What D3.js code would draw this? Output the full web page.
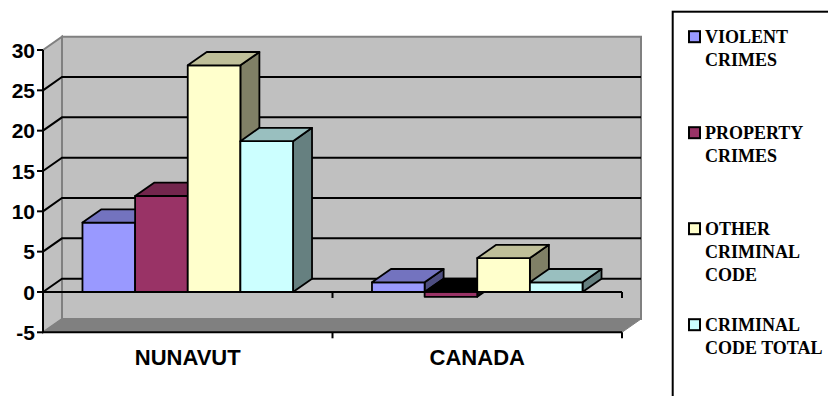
<!DOCTYPE html>
<html>
<head>
<meta charset="utf-8">
<script src="https://cdn.jsdelivr.net/npm/d3@7"></script>
<style>
body{ margin:0; background:#fff; }
</style>
</head>
<body>
<svg id="chart" width="828" height="396"></svg>
<script>
// data
let categories = ['NUNAVUT', 'CANADA'];
let seriesNames = ['VIOLENT CRIMES', 'PROPERTY CRIMES', 'OTHER CRIMINAL CODE', 'CRIMINAL CODE TOTAL'];
let legendLines = [['VIOLENT', 'CRIMES'], ['PROPERTY', 'CRIMES'], ['OTHER', 'CRIMINAL', 'CODE'], ['CRIMINAL', 'CODE TOTAL']];
let violent = [8.6, 1.2];
let property = [11.9, -0.6];
let otherCode = [28.1, 4.2];
let codeTotal = [18.7, 1.2];
let yTicks = [-5, 0, 5, 10, 15, 20, 25, 30];

let seriesValues = [violent, property, otherCode, codeTotal];
let colors = ['#9999ff', '#993366', '#ffffcc', '#ccffff'];

let sansFont = "'Liberation Sans', Arial, Helvetica, sans-serif";
let serifFont = "'Liberation Serif', 'Times New Roman', 'DejaVu Serif', serif";

let svg = d3.select('#chart');

// front plane + depth offset of the 3d box
let left = 43, right = 622;
let dx = 19, dy = -13.3;

let y = d3.scaleLinear().domain([-5, 30]).range([332.3, 50]);
let x = d3.scaleBand().domain(categories).range([left, right]).paddingInner(0).paddingOuter(0);

let yMin = y(-5), yMax = y(30);

function shade(c, k){
    let col = d3.rgb(c);
    return d3.rgb(col.r * k, col.g * k, col.b * k).toString();
}

function poly(pts){
    return 'M' + pts.map(p => p.join(',')).join('L') + 'Z';
}

// walls and floor
svg.append('path')
    .attr('d', poly([[left + dx, yMax + dy], [right + dx, yMax + dy], [right + dx, yMin + dy], [left + dx, yMin + dy]]))
    .style('fill', '#c0c0c0').style('stroke', '#808080').style('stroke-width', 2);

svg.append('path')
    .attr('d', poly([[left, yMax], [left + dx, yMax + dy], [left + dx, yMin + dy], [left, yMin]]))
    .style('fill', '#c0c0c0').style('stroke', '#808080').style('stroke-width', 2);

svg.append('path')
    .attr('d', poly([[left, yMin], [left + dx, yMin + dy], [right + dx, yMin + dy], [right, yMin]]))
    .style('fill', '#808080').style('stroke', '#808080').style('stroke-width', 1);

// gridlines on the back and side walls
let gridVals = yTicks.filter(v => v > -5 && v < 30);
let grid = svg.append('g');
gridVals.forEach(v => {
    grid.append('path')
        .attr('d', 'M' + left + ',' + y(v) + 'L' + (left + dx) + ',' + (y(v) + dy) + 'L' + (right + dx) + ',' + (y(v) + dy))
        .style('fill', 'none').style('stroke', '#000').style('stroke-width', 2);
});

// value axis
svg.append('line')
    .attr('x1', left).attr('x2', left).attr('y1', yMax).attr('y2', yMin)
    .style('stroke', '#000').style('stroke-width', 2);

svg.selectAll('.ytick').data(yTicks).enter()
    .append('line')
    .attr('x1', left - 6).attr('x2', left)
    .attr('y1', d => y(d)).attr('y2', d => y(d))
    .style('stroke', '#000').style('stroke-width', 2);

svg.selectAll('.ylabel').data(yTicks).enter()
    .append('text')
    .attr('x', left - 8)
    .attr('y', d => y(d))
    .attr('dy', '0.36em')
    .attr('text-anchor', 'end')
    .attr('font-family', sansFont)
    .attr('font-weight', 'bold')
    .attr('font-size', 21)
    .text(d => d);

// category axis at zero and front floor edge
let bandEdges = categories.map(c => x(c) + x.bandwidth());
[0, -5].forEach(v => {
    svg.append('line')
        .attr('x1', left).attr('x2', right).attr('y1', y(v)).attr('y2', y(v))
        .style('stroke', '#000').style('stroke-width', 2);
    svg.selectAll('.xtick' + v).data(bandEdges).enter()
        .append('line')
        .attr('x1', d => d).attr('x2', d => d)
        .attr('y1', y(v)).attr('y2', y(v) + 6)
        .style('stroke', '#000').style('stroke-width', 2);
});

// bars
let barw = x.bandwidth() / 5.5;
let bars = svg.append('g');
categories.forEach((c, ci) => {
    seriesValues.forEach((vals, si) => {
        let v = vals[ci];
        let x0 = x(c) + barw * 0.75 + si * barw;
        let x1 = x0 + barw;
        let yt = y(Math.max(v, 0));
        let yb = y(Math.min(v, 0));
        let g = bars.append('g')
            .style('stroke', '#000').style('stroke-width', 1.8).style('stroke-linejoin', 'round');
        // right side
        g.append('path')
            .attr('d', poly([[x1, yt], [x1 + dx, yt + dy], [x1 + dx, yb + dy], [x1, yb]]))
            .style('fill', v < 0 ? '#111' : shade(colors[si], 0.5));
        // front
        g.append('path')
            .attr('d', poly([[x0, yt], [x1, yt], [x1, yb], [x0, yb]]))
            .style('fill', colors[si]);
        // top
        g.append('path')
            .attr('d', poly([[x0, yt], [x0 + dx, yt + dy], [x1 + dx, yt + dy], [x1, yt]]))
            .style('fill', v < 0 ? '#000' : shade(colors[si], 0.75));
    });
});

// category labels
svg.selectAll('.xlabel').data(categories).enter()
    .append('text')
    .attr('x', d => x(d) + x.bandwidth() / 2)
    .attr('y', 365)
    .attr('text-anchor', 'middle')
    .attr('font-family', sansFont)
    .attr('font-weight', 'bold')
    .attr('font-size', 22)
    .text(d => d);

// legend
let legend = svg.append('g');
legend.append('rect')
    .attr('x', 672.7).attr('y', 11.7).attr('width', 200).attr('height', 420)
    .style('fill', '#fff').style('stroke', '#000').style('stroke-width', 2);

let legendBase = [42.7, 138.7, 234.7, 330.7];
seriesNames.forEach((name, i) => {
    legend.append('rect')
        .attr('x', 689).attr('y', legendBase[i] - 11.5)
        .attr('width', 11).attr('height', 11)
        .style('fill', colors[i]).style('stroke', '#000').style('stroke-width', 2);
    let t = legend.append('text')
        .attr('x', 705).attr('y', legendBase[i])
        .attr('font-family', serifFont)
        .attr('font-weight', 'bold')
        .attr('font-size', 18);
    legendLines[i].forEach((line, li) => {
        t.append('tspan').attr('x', 705).attr('y', legendBase[i] + li * 23.3).text(line);
    });
});
</script>
</body>
</html>
